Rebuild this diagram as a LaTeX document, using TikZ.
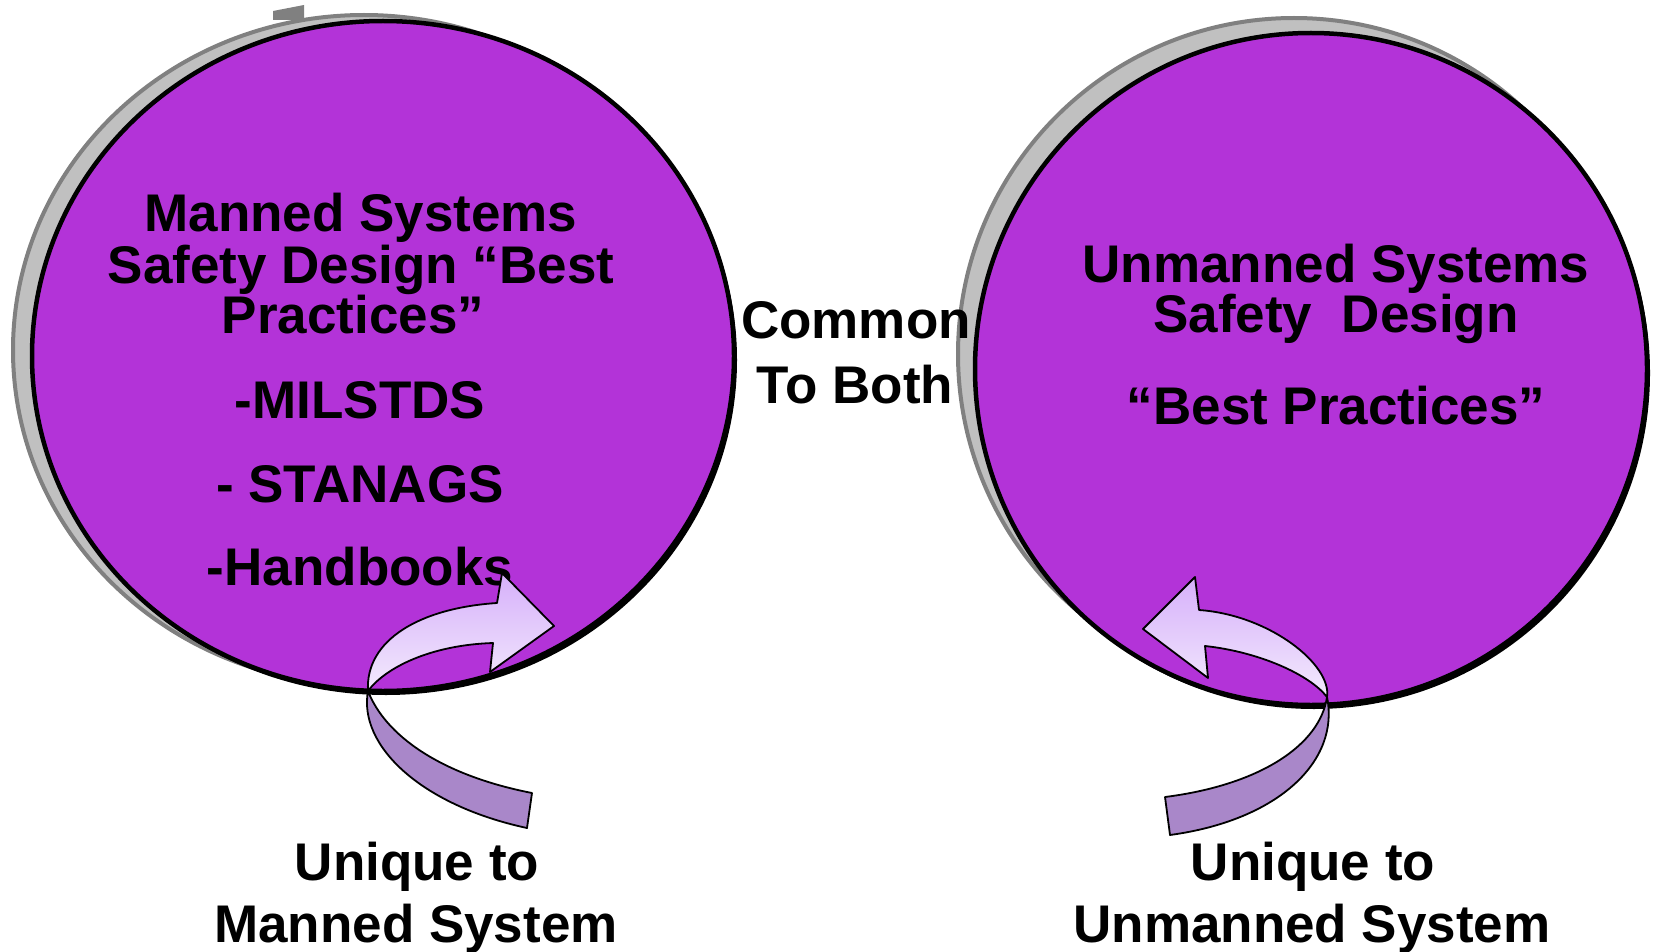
\documentclass[tikz,border=0pt]{standalone}
\usepackage{fontspec}
\setmainfont{Liberation Sans}
\definecolor{circ}{RGB}{179,51,216}
\definecolor{shlight}{RGB}{192,192,192}
\definecolor{shdark}{RGB}{128,128,128}
\definecolor{tailc}{RGB}{169,135,201}
\definecolor{headc}{RGB}{214,176,250}
\definecolor{headl}{RGB}{243,234,253}
\tikzset{
  lbl/.style={font=\fontsize{53}{50}\selectfont\bfseries, inner sep=0pt, anchor=base},
  shadowring/.style={fill=shlight, draw=shdark, line width=4pt},
  disc/.style={fill=circ, draw=black, line width=4.5pt},
  band/.style={draw=black, line width=1.8pt, line join=round},
  tailband/.style={band, fill=tailc},
  headband/.style={band, top color=headc, bottom color=headl},
}
\begin{document}
\begin{tikzpicture}[x=1pt,y=-1pt]
\useasboundingbox (0,0) rectangle (1654,952);
% left circle
\fill[shdark] (273,20) -- (273,11) -- (304,5) -- (304,20) -- cycle;
\draw[shadowring] (364,350) ellipse [x radius=351, y radius=335];
\fill[black] (386,360) ellipse [x radius=351, y radius=335];
\draw[disc] (383,356) ellipse [x radius=351, y radius=335];
% right circle
\draw[shadowring] (1294,354) ellipse [x radius=336, y radius=336];
\fill[black] (1314,373) ellipse [x radius=336, y radius=336];
\draw[disc] (1311,369) ellipse [x radius=336, y radius=336];

% left texts
\node[lbl] (m1) at (361,232) {Manned Systems};
\node[lbl] (m2) at (361,283) {Safety Design “Best};
\node[lbl] (m3) at (353,333) {Practices”};
\node[lbl] (m4) at (360,418) {-MILSTDS};
\node[lbl] (m5) at (360,502) {- STANAGS};
\node[lbl] (m6) at (360,585) {-Handbooks};
% common
\node[lbl] (c1) at (856,338) {Common};
\node[lbl] (c2) at (855,403) {To Both};
% right texts
\node[lbl] (u1) at (1336,282) {Unmanned Systems};
\node[lbl] (u2) at (1336,332) {Safety\ \ Design};
\node[lbl] (u3) at (1336,424) {“Best Practices”};
% bottom labels
\node[lbl] (b1) at (417,880) {Unique to};
\node[lbl] (b2) at (416,942) {Manned System};
\node[lbl] (b3) at (1313,880) {Unique to};
\node[lbl] (b4) at (1312,942) {Unmanned System};

% left curved arrow
\coordinate (lt) at (368,691);
\draw[tailband] (lt) .. controls (358,745) and (420,805) .. (527,828)
  -- (532,793) .. controls (440,775) and (385,735) .. (lt) -- cycle;
\draw[headband] (lt) .. controls (365,640) and (420,608) .. (497,603)
  -- (502,573) -- (554,626) -- (490,672) -- (493,643)
  .. controls (430,645) and (385,668) .. (lt) -- cycle;

% right curved arrow
\coordinate (rt) at (1327,697);
\draw[tailband] (rt) .. controls (1340,760) and (1280,820) .. (1170,835)
  -- (1165,797) .. controls (1260,785) and (1320,745) .. (rt) -- cycle;
\draw[headband] (rt) .. controls (1332,665) and (1270,615) .. (1199,610)
  -- (1195,577) -- (1143,629) -- (1208,678) -- (1205,646)
  .. controls (1260,652) and (1310,675) .. (rt) -- cycle;
\end{tikzpicture}
\end{document}
